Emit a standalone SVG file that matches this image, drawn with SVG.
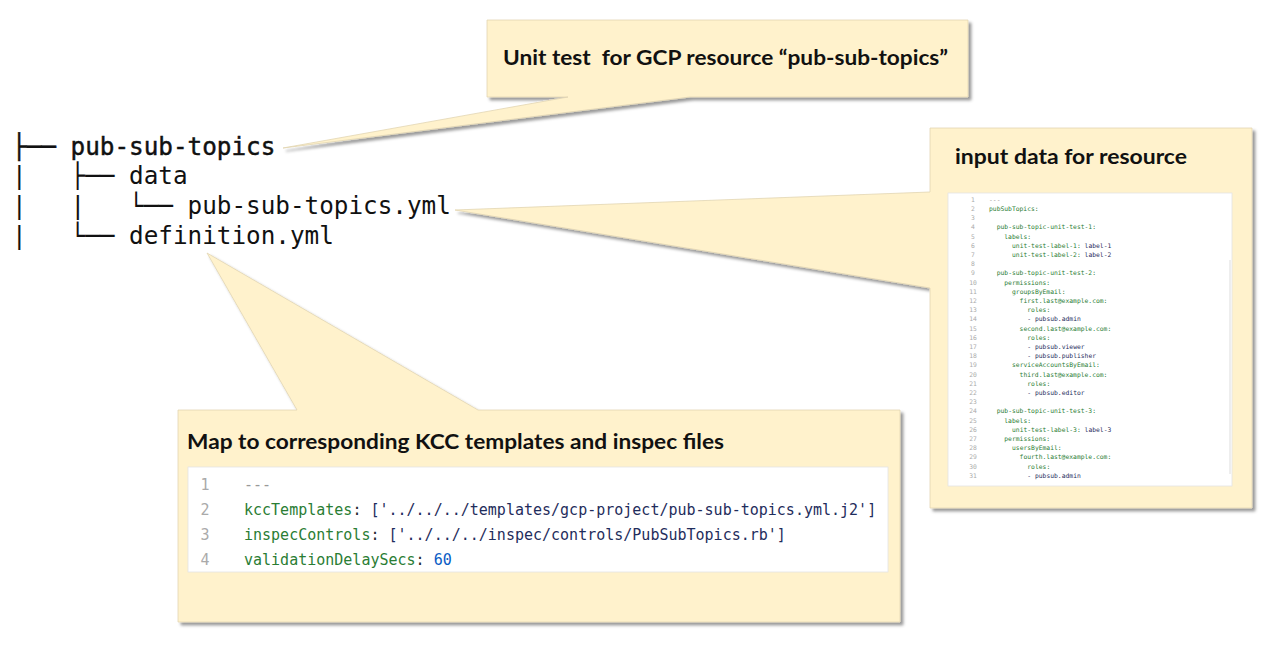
<svg xmlns="http://www.w3.org/2000/svg" width="1272" height="650" viewBox="0 0 1272 650">
<style>
.callout{fill:#fff2cc;stroke:#e2d5b2;stroke-width:0.8}
.title{font-family:Lato,"Liberation Sans",sans-serif;font-weight:bold;fill:#111}
.tree{font-family:"DejaVu Sans Mono","Liberation Mono",monospace;font-size:24.3px;fill:#111}
.code{font-family:"DejaVu Sans Mono","Liberation Mono",monospace}
.sm{font-size:6.35px}
.big{font-size:15px}
.ln{fill:#aaaaaa;text-anchor:middle}
.k{fill:#2a7d34}
.v{fill:#1f2d5c}
.p{fill:#24292e}
.n{fill:#0a5cc5}
.g{fill:#999999}
.panel{fill:#ffffff;stroke:#e4e4e4;stroke-width:0.8}
</style>
<defs>
<filter id="sh" x="-10%" y="-10%" width="125%" height="125%">
<feDropShadow dx="3" dy="3" stdDeviation="1.8" flood-color="#000" flood-opacity="0.4"/>
</filter>
</defs>
<rect width="1272" height="650" fill="#ffffff"/>

<g id="tree" class="tree">
<text x="12" y="154.5" stroke="#111" stroke-width="0.45" xml:space="preserve">├── pub-sub-topics</text>
<text x="12" y="184.3" xml:space="preserve">|   ├── data</text>
<text x="12" y="214.3" xml:space="preserve">|   |   └── pub-sub-topics.yml</text>
<text x="12" y="244" xml:space="preserve">|   └── definition.yml</text>
</g>

<g id="callout-unit-test">
<path class="callout" filter="url(#sh)" d="M487,20 H968 V97 H690 L283,148 L568,97 H487 Z"/>
<text class="title" x="503" y="65" font-size="20" textLength="445" lengthAdjust="spacingAndGlyphs" xml:space="preserve">Unit test  for GCP resource “pub-sub-topics”</text>
</g>

<g id="callout-input-data">
<path class="callout" filter="url(#sh)" d="M930,128 H1252 V508 H930 V288 L455,210 L930,192 Z"/>
<text class="title" x="955" y="164" font-size="21" textLength="232" lengthAdjust="spacingAndGlyphs">input data for resource</text>
<rect class="panel" x="948" y="193" width="284" height="293"/>
<line x1="1230" y1="260" x2="1230" y2="474" stroke="#dddddd" stroke-width="1"/>
<g class="code sm">
<text class="ln" x="973" y="201.8">1</text>
<text class="ln" x="973" y="211">2</text>
<text class="ln" x="973" y="220.2">3</text>
<text class="ln" x="973" y="229.4">4</text>
<text class="ln" x="973" y="238.6">5</text>
<text class="ln" x="973" y="247.8">6</text>
<text class="ln" x="973" y="257">7</text>
<text class="ln" x="973" y="266.2">8</text>
<text class="ln" x="973" y="275.4">9</text>
<text class="ln" x="973" y="284.6">10</text>
<text class="ln" x="973" y="293.8">11</text>
<text class="ln" x="973" y="303">12</text>
<text class="ln" x="973" y="312.2">13</text>
<text class="ln" x="973" y="321.4">14</text>
<text class="ln" x="973" y="330.6">15</text>
<text class="ln" x="973" y="339.8">16</text>
<text class="ln" x="973" y="349">17</text>
<text class="ln" x="973" y="358.2">18</text>
<text class="ln" x="973" y="367.4">19</text>
<text class="ln" x="973" y="376.6">20</text>
<text class="ln" x="973" y="385.8">21</text>
<text class="ln" x="973" y="395">22</text>
<text class="ln" x="973" y="404.2">23</text>
<text class="ln" x="973" y="413.4">24</text>
<text class="ln" x="973" y="422.6">25</text>
<text class="ln" x="973" y="431.8">26</text>
<text class="ln" x="973" y="441">27</text>
<text class="ln" x="973" y="450.2">28</text>
<text class="ln" x="973" y="459.4">29</text>
<text class="ln" x="973" y="468.6">30</text>
<text class="ln" x="973" y="477.8">31</text>

<text class="g" x="989" y="201.8">---</text>
<text class="k" x="989" y="211">pubSubTopics:</text>
<text class="k" x="996.7" y="229.4">pub-sub-topic-unit-test-1:</text>
<text class="k" x="1004.3" y="238.6">labels:</text>
<text class="k" x="1012" y="247.8" xml:space="preserve">unit-test-label-1:<tspan class="v"> label-1</tspan></text>
<text class="k" x="1012" y="257" xml:space="preserve">unit-test-label-2:<tspan class="v"> label-2</tspan></text>
<text class="k" x="996.7" y="275.4">pub-sub-topic-unit-test-2:</text>
<text class="k" x="1004.3" y="284.6">permissions:</text>
<text class="k" x="1012" y="293.8">groupsByEmail:</text>
<text class="k" x="1019.6" y="303">first.last@example.com:</text>
<text class="k" x="1027.3" y="312.2">roles:</text>
<text class="v" x="1027.3" y="321.4">- pubsub.admin</text>
<text class="k" x="1019.6" y="330.6">second.last@example.com:</text>
<text class="k" x="1027.3" y="339.8">roles:</text>
<text class="v" x="1027.3" y="349">- pubsub.viewer</text>
<text class="v" x="1027.3" y="358.2">- pubsub.publisher</text>
<text class="k" x="1012" y="367.4">serviceAccountsByEmail:</text>
<text class="k" x="1019.6" y="376.6">third.last@example.com:</text>
<text class="k" x="1027.3" y="385.8">roles:</text>
<text class="v" x="1027.3" y="395">- pubsub.editor</text>
<text class="k" x="996.7" y="413.4">pub-sub-topic-unit-test-3:</text>
<text class="k" x="1004.3" y="422.6">labels:</text>
<text class="k" x="1012" y="431.8" xml:space="preserve">unit-test-label-3:<tspan class="v"> label-3</tspan></text>
<text class="k" x="1004.3" y="441">permissions:</text>
<text class="k" x="1012" y="450.2">usersByEmail:</text>
<text class="k" x="1019.6" y="459.4">fourth.last@example.com:</text>
<text class="k" x="1027.3" y="468.6">roles:</text>
<text class="v" x="1027.3" y="477.8">- pubsub.admin</text>
</g>
</g>

<g id="callout-definition">
<path class="callout" filter="url(#sh)" d="M178,410 H297 L207,253 L478,410 H900 V622 H178 Z"/>
<text class="title" x="187" y="449" font-size="20" textLength="537" lengthAdjust="spacingAndGlyphs">Map to corresponding KCC templates and inspec files</text>
<rect class="panel" x="188" y="467" width="700" height="105"/>
<g class="code big">
<text class="ln" x="205" y="489.5">1</text>
<text class="ln" x="205" y="514.5">2</text>
<text class="ln" x="205" y="539.5">3</text>
<text class="ln" x="205" y="564.5">4</text>
<text class="g" x="244" y="489.5">---</text>
<text class="k" x="244" y="514.5" xml:space="preserve">kccTemplates<tspan class="p">: </tspan><tspan class="v">['../../../templates/gcp-project/pub-sub-topics.yml.j2']</tspan></text>
<text class="k" x="244" y="539.5" xml:space="preserve">inspecControls<tspan class="p">: </tspan><tspan class="v">['../../../inspec/controls/PubSubTopics.rb']</tspan></text>
<text class="k" x="244" y="564.5" xml:space="preserve">validationDelaySecs<tspan class="p">: </tspan><tspan class="n">60</tspan></text>
</g>
</g>
</svg>
